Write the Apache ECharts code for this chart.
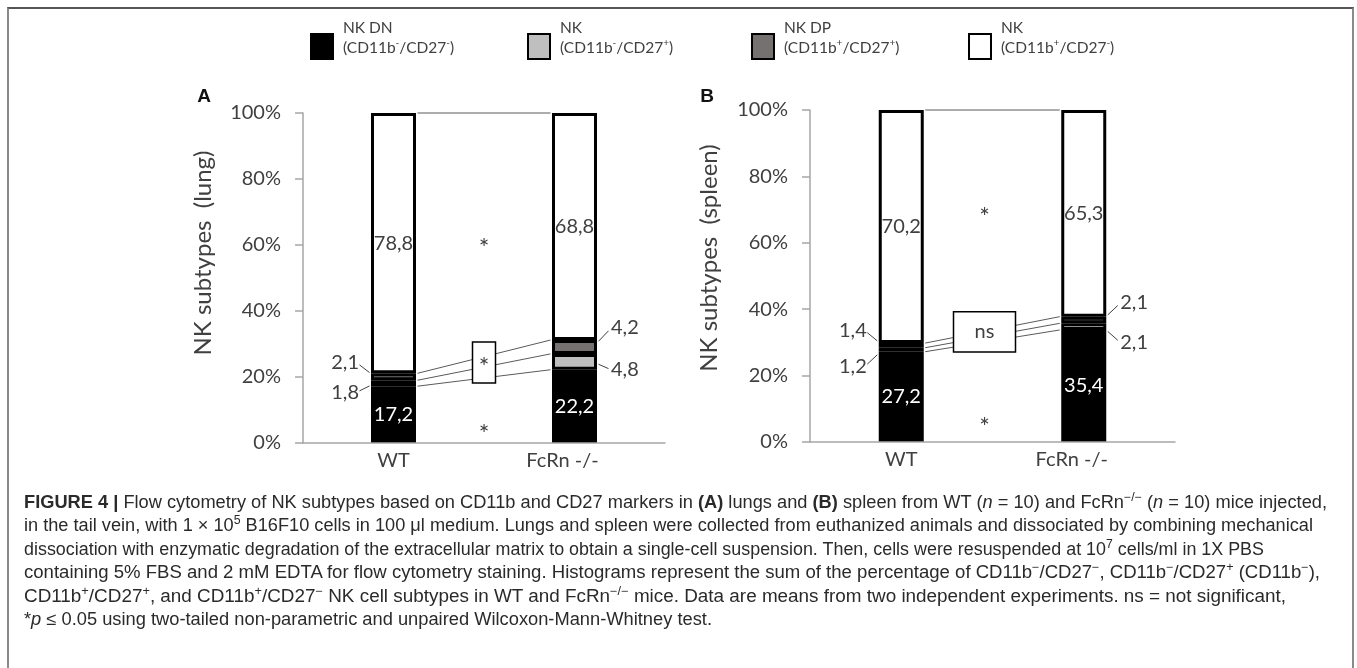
<!DOCTYPE html>
<html>
<head>
<meta charset="utf-8">
<title>NK subtypes</title>
<script src="https://cdn.jsdelivr.net/npm/echarts@6/dist/echarts.min.js"></script>
<style>
html,body{margin:0;padding:0;background:#fff;}
body{width:1357px;height:668px;overflow:hidden;position:relative;}
#frame{position:absolute;left:7px;top:7px;width:1343px;height:720px;border-top:2px solid #555;border-left:2px solid #8a8a8a;border-right:2px solid #8a8a8a;}
#chart{position:absolute;left:0;top:0;width:1357px;height:485px;}
#caption{position:absolute;left:24px;top:0;width:1320px;height:668px;font-family:"Liberation Sans Narrow","Liberation Sans",Arial,sans-serif;font-size:17.5px;color:#2a2a2a;}
.ln{position:absolute;left:0;white-space:nowrap;line-height:20px;transform-origin:0 50%;}
sup{font-size:0.68em;line-height:0;vertical-align:0.6em;}
</style>
</head>
<body>
<div id="frame"></div>
<div id="chart"></div>
<div id="caption">
<div class="ln"><b>FIGURE 4 |</b> Flow cytometry of NK subtypes based on CD11b and CD27 markers in <b>(A)</b> lungs and <b>(B)</b> spleen from WT (<i>n</i> = 10) and FcRn<sup>−/−</sup> (<i>n</i> = 10) mice injected,</div>
<div class="ln">in the tail vein, with 1 × 10<sup>5</sup> B16F10 cells in 100 μl medium. Lungs and spleen were collected from euthanized animals and dissociated by combining mechanical</div>
<div class="ln">dissociation with enzymatic degradation of the extracellular matrix to obtain a single-cell suspension. Then, cells were resuspended at 10<sup>7</sup> cells/ml in 1X PBS</div>
<div class="ln">containing 5% FBS and 2 mM EDTA for flow cytometry staining. Histograms represent the sum of the percentage of CD11b<sup>−</sup>/CD27<sup>−</sup>, CD11b<sup>−</sup>/CD27<sup>+</sup> (CD11b<sup>−</sup>),</div>
<div class="ln">CD11b<sup>+</sup>/CD27<sup>+</sup>, and CD11b<sup>+</sup>/CD27<sup>−</sup> NK cell subtypes in WT and FcRn<sup>−/−</sup> mice. Data are means from two independent experiments. ns = not significant,</div>
<div class="ln">*<i>p</i> ≤ 0.05 using two-tailed non-parametric and unpaired Wilcoxon-Mann-Whitney test.</div>
</div>
<script>
// ---------------- data ----------------
const categories = ['WT', 'FcRn -/-'];
const subtypeKeys = ['DN', 'CD27pos', 'DP', 'CD27neg'];
// lung (panel A)
const lungDN = [17.2, 22.2];
const lungCD27pos = [1.8, 4.8];
const lungDP = [2.1, 4.2];
const lungCD27neg = [78.8, 68.8];
// spleen (panel B)
const spleenDN = [27.2, 35.4];
const spleenCD27pos = [1.2, 2.1];
const spleenDP = [1.4, 2.1];
const spleenCD27neg = [70.2, 65.3];
// axis ticks
const yTickMin = 0, yTickMax = 100, yTickStep = 20;
// significance marks: [upper, box, lower]
const lungSignif = ['*', '*', '*'];
const spleenSignif = ['*', 'ns', '*'];

// ---------------- caption layout ----------------
const capTops = [492, 515, 539, 562, 586, 609];
const capWidths = [1303, 1289, 1240, 1296, 1262, 688];
document.querySelectorAll('#caption .ln').forEach((el, i) => {
  el.style.top = capTops[i] + 'px';
  const w = el.getBoundingClientRect().width;
  el.style.transform = 'scaleX(' + (capWidths[i] / w) + ')';
});

// ---------------- chart ----------------
const FONT = 'Lato, "Open Sans", sans-serif';
const TXT = '#404040';
const AXIS = '#a6a6a6';
const COLORS = {DN: '#000000', CD27pos: '#bfbfbf', DP: '#767171', CD27neg: '#ffffff'};
const BAR_W = 45, BORDER = 3;
const HALF = BAR_W / 2 + BORDER / 2;

function normalize(cols) {
  const totals = cols[0].map((_, i) => cols.reduce((s, c) => s + c[i], 0));
  return cols.map(c => c.map((v, i) => v / totals[i] * 100));
}
const fmt = p => String(p.data.raw).replace('.', ',');

// vertical label offsets for the thin segments (layout only)
const outsideDy = [
  {DP: [-14, -19], CD27pos: [9, 8]},
  {DP: [-15, -17], CD27pos: [17, 16]}
];

function labelFor(gi, key, ci) {
  if (key === 'DN') return {show: true, position: 'inside', color: '#fff', fontSize: 20, fontFamily: FONT, formatter: fmt};
  if (key === 'CD27neg') return {show: true, position: 'inside', color: TXT, fontSize: 20, fontFamily: FONT, formatter: fmt};
  return {show: true, position: ci === 0 ? 'left' : 'right', distance: ci === 0 ? 12 : 14,
          offset: [0, outsideDy[gi][key][ci]], color: TXT, fontSize: 20, fontFamily: FONT, formatter: fmt};
}

function barSeries(gi, cols) {
  const pct = normalize(cols);
  return subtypeKeys.map((key, si) => ({
    type: 'bar', name: key, id: 'bar-' + gi + '-' + key,
    xAxisIndex: gi, yAxisIndex: gi, stack: 'total' + gi,
    barWidth: BAR_W, z: 3, animation: false,
    itemStyle: {color: COLORS[key], borderColor: '#000', borderWidth: BORDER},
    emphasis: {disabled: true},
    data: cols[si].map((raw, ci) => ({value: pct[si][ci], raw: raw, label: labelFor(gi, key, ci)}))
  }));
}

// Excel-style "series lines" joining segment boundaries between the two bars
function seriesLines(gi, cols) {
  const pct = normalize(cols);
  let a = 0, b = 0;
  const levels = pct.map(c => { a += c[0]; b += c[1]; return [0, a, b]; });
  return {
    type: 'custom', xAxisIndex: gi, yAxisIndex: gi, z: 1, silent: true, animation: false,
    encode: {x: 0, y: 1},
    data: levels,
    renderItem(params, api) {
      const p1 = api.coord([0, api.value(1)]);
      const p2 = api.coord([1, api.value(2)]);
      return {type: 'line', shape: {x1: p1[0] + HALF, y1: p1[1], x2: p2[0] - HALF, y2: p2[1]},
              style: {stroke: '#5a5a5a', lineWidth: 1}};
    }
  };
}

// leader lines from the thin segments to their labels
function leaderLines(gi, cols) {
  const pct = normalize(cols);
  const items = [];
  [1, 2].forEach(si => {
    [0, 1].forEach(ci => {
      let base = 0;
      for (let k = 0; k < si; k++) base += pct[k][ci];
      items.push([ci, base + pct[si][ci] / 2, outsideDy[gi][subtypeKeys[si]][ci]]);
    });
  });
  return {
    type: 'custom', xAxisIndex: gi, yAxisIndex: gi, z: 4, silent: true, animation: false,
    encode: {x: 0, y: 1},
    data: items,
    renderItem(params, api) {
      const ci = api.value(0), dy = api.value(2);
      const p = api.coord([ci, api.value(1)]);
      const side = ci === 0 ? -1 : 1;
      const xe = p[0] + side * HALF;
      return {type: 'polyline', shape: {points: [[xe + side * 10, p[1] + dy * 0.85], [xe, p[1] + dy * 0.3]]},
              style: {stroke: TXT, lineWidth: 1, fill: null}};
    }
  };
}

function signifSeries(gi, texts, box) {
  return {
    type: 'custom', xAxisIndex: gi, yAxisIndex: gi, z: 10, silent: true, animation: false,
    encode: {x: 0, y: 1},
    data: [[0, 50]],
    renderItem(params, api) {
      const cx = (api.coord([0, 0])[0] + api.coord([1, 0])[0]) / 2 + box.dx;
      const yTop = api.coord([0, box.hi])[1], yBot = api.coord([0, box.lo])[1];
      const star = (y, t) => ({type: 'text', x: cx, y: api.coord([0, y])[1],
        style: {text: t, fontSize: 25, fontFamily: FONT, fill: TXT, align: 'center', verticalAlign: 'middle'}});
      return {type: 'group', children: [
        star(box.upper, texts[0]),
        {type: 'rect', shape: {x: cx - box.w / 2, y: yTop, width: box.w, height: yBot - yTop},
         style: {fill: '#fff', stroke: '#000', lineWidth: 1.5}},
        {type: 'text', x: cx, y: (yTop + yBot) / 2 + box.tdy,
         style: {text: texts[1], fontSize: box.fs, fontFamily: FONT, fill: TXT, align: 'center', verticalAlign: 'middle'}},
        star(box.lower, texts[2])
      ]};
    }
  };
}

const sup = {fontSize: 10, fontFamily: FONT, color: TXT, verticalAlign: 'top', lineHeight: 13};
const legendText = {
  DN: '{a|NK DN}\n{a|(CD11b}{s|-}{a|/CD27}{s|-}{a|)}',
  CD27pos: '{a|NK}\n{a|(CD11b}{s|-}{a|/CD27}{s|+}{a|)}',
  DP: '{a|NK DP}\n{a|(CD11b}{s|+}{a|/CD27}{s|+}{a|)}',
  CD27neg: '{a|NK}\n{a|(CD11b}{s|+}{a|/CD27}{s|-}{a|)}'
};
const legendLeft = [310, 527, 751, 968];

const legends = subtypeKeys.map((key, i) => ({
  data: [key], left: legendLeft[i], top: 20, orient: 'horizontal', padding: 0,
  selectedMode: false, itemWidth: 22, itemHeight: 25, itemGap: 0, icon: 'rect',
  itemStyle: {borderColor: '#000', borderWidth: 2},
  formatter: n => legendText[n],
  textStyle: {padding: [0, 0, 17, 5], rich: {a: {fontSize: 15.5, fontFamily: FONT, color: TXT, lineHeight: 20}, s: sup}}
}));

function xAxisCfg(gi) {
  return {type: 'category', gridIndex: gi, data: categories,
    axisLine: {lineStyle: {color: AXIS, width: 1.5}}, axisTick: {show: false},
    axisLabel: {fontSize: 20, fontFamily: FONT, color: TXT, margin: 8,
      formatter: (v, i) => i === 1 ? '{p|' + v + '}' : v,
      rich: {p: {fontSize: 20, fontFamily: FONT, color: TXT, padding: [0, 24, 0, 0]}}},
    z: 5};
}
function yAxisCfg(gi) {
  return {type: 'value', gridIndex: gi, min: yTickMin, max: yTickMax, interval: yTickStep,
    axisLine: {show: true, lineStyle: {color: AXIS, width: 1.5}},
    axisTick: {show: true, length: 8, lineStyle: {color: AXIS, width: 1.5}},
    splitLine: {show: false},
    axisLabel: {formatter: '{value}%', fontSize: 20, fontFamily: FONT, color: TXT, margin: 22}};
}

const lungCols = [lungDN, lungCD27pos, lungDP, lungCD27neg];
const spleenCols = [spleenDN, spleenCD27pos, spleenDP, spleenCD27neg];

const chart = echarts.init(document.getElementById('chart'));
chart.setOption({
  animation: false,
  legend: legends,
  grid: [
    {left: 303, top: 113, width: 362, height: 330},
    {left: 810, top: 110, width: 365, height: 332}
  ],
  xAxis: [xAxisCfg(0), xAxisCfg(1)],
  yAxis: [yAxisCfg(0), yAxisCfg(1)],
  graphic: [
    {type: 'text', x: 204, y: 97, style: {text: 'A', font: 'bold 19px "Liberation Sans", Arial', fill: '#111', align: 'center', verticalAlign: 'middle'}},
    {type: 'text', x: 707, y: 97, style: {text: 'B', font: 'bold 19px "Liberation Sans", Arial', fill: '#111', align: 'center', verticalAlign: 'middle'}},
    {type: 'text', x: 203, y: 253, rotation: Math.PI / 2, style: {text: 'NK subtypes  (lung)', font: '24px Lato', fill: TXT, align: 'center', verticalAlign: 'middle'}},
    {type: 'text', x: 709, y: 258, rotation: Math.PI / 2, style: {text: 'NK subtypes  (spleen)', font: '24px Lato', fill: TXT, align: 'center', verticalAlign: 'middle'}}
  ],
  series: [
    seriesLines(0, lungCols),
    ...barSeries(0, lungCols),
    leaderLines(0, lungCols),
    signifSeries(0, lungSignif, {dx: 0, lo: 18.2, hi: 30.6, w: 23, fs: 25, tdy: 5, upper: 58.8, lower: 2.4}),
    seriesLines(1, spleenCols),
    ...barSeries(1, spleenCols),
    leaderLines(1, spleenCols),
    signifSeries(1, spleenSignif, {dx: -8, lo: 27.1, hi: 39.2, w: 62, fs: 20, tdy: 0, upper: 67.5, lower: 4.2})
  ]
});
</script>
</body>
</html>
